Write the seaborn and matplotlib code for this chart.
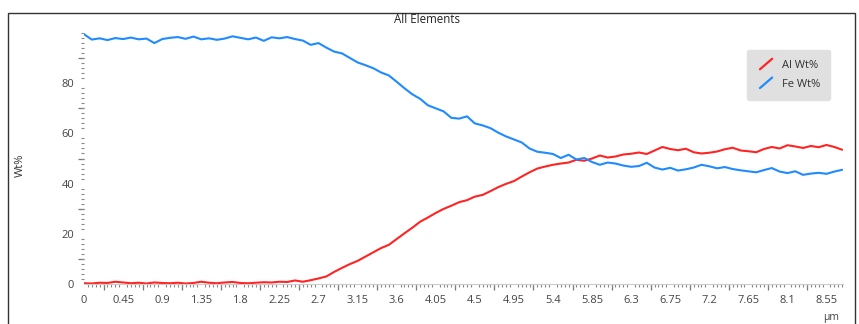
"""
Line scan of Al / Fe weight percent across an interface.
"""

import matplotlib.pyplot as plt
import pandas as pd
import seaborn as sns
from matplotlib.legend_handler import HandlerBase
from matplotlib.lines import Line2D
from matplotlib.patches import Rectangle
from matplotlib.ticker import FixedLocator, MultipleLocator

# distance along the scan (um), one sample every 0.09 um
step = 0.09
n_points = 98

fe_wt = [
    99.5, 97.4, 97.9, 97.2, 98.0, 97.6, 98.2, 97.5, 97.8, 96.0,
    97.6, 98.1, 98.4, 97.7, 98.6, 97.5, 97.9, 97.3, 97.8, 98.7,
    98.1, 97.5, 98.2, 96.9, 98.3, 97.9, 98.4, 97.6, 97.0, 95.3,
    96.0, 94.2, 92.6, 91.9, 90.1, 88.3, 87.2, 86.0, 84.3, 83.1,
    80.6, 78.0, 75.6, 73.8, 71.2, 70.0, 68.8, 66.2, 65.9, 66.8,
    64.0, 63.2, 62.1, 60.3, 58.8, 57.6, 56.4, 54.0, 52.7, 52.3,
    51.8, 50.2, 51.5, 49.6, 50.2, 48.6, 47.5, 48.4, 48.0, 47.2,
    46.7, 47.0, 48.3, 46.4, 45.6, 46.3, 45.2, 45.7, 46.4, 47.5,
    46.9, 46.1, 46.6, 45.8, 45.3, 44.9, 44.5, 45.4, 46.2, 44.8,
    44.2, 44.9, 43.5, 44.0, 44.3, 43.9, 44.8, 45.5,
]

al_wt = [
    0.3, 0.2, 0.5, 0.4, 0.9, 0.6, 0.3, 0.5, 0.2, 0.6,
    0.4, 0.3, 0.5, 0.2, 0.4, 0.9, 0.5, 0.3, 0.6, 0.8,
    0.4, 0.3, 0.5, 0.7, 0.6, 0.9, 0.8, 1.4, 0.9, 1.5,
    2.2, 3.0, 4.8, 6.4, 7.9, 9.2, 10.9, 12.6, 14.3, 15.6,
    17.9, 20.2, 22.4, 24.8, 26.5, 28.3, 29.9, 31.2, 32.6, 33.4,
    34.8, 35.5, 37.0, 38.6, 39.9, 41.0, 42.8, 44.5, 46.0, 46.8,
    47.5, 48.0, 48.4, 49.5, 49.1, 50.0, 51.2, 50.4, 50.8, 51.6,
    51.9, 52.4, 51.8, 53.2, 54.6, 53.8, 53.3, 53.9, 52.5, 52.0,
    52.3, 52.8, 53.7, 54.3, 53.2, 52.9, 52.5, 53.8, 54.6, 54.0,
    55.3, 54.8, 54.2, 55.0, 54.5, 55.4, 54.6, 53.5,
]

x_ticks = [0, 0.45, 0.9, 1.35, 1.8, 2.25, 2.7, 3.15, 3.6, 4.05,
           4.5, 4.95, 5.4, 5.85, 6.3, 6.75, 7.2, 7.65, 8.1, 8.55]
x_tick_labels = ["0", "0.45", "0.9", "1.35", "1.8", "2.25", "2.7", "3.15",
                 "3.6", "4.05", "4.5", "4.95", "5.4", "5.85", "6.3", "6.75",
                 "7.2", "7.65", "8.1", "8.55"]
y_ticks = [0, 20, 40, 60, 80]

colors = {"Al Wt%": "#ff2424", "Fe Wt%": "#1f8bff"}


class SlantHandler(HandlerBase):
    """Legend key drawn as a short rising line."""

    def create_artists(self, legend, orig, xdescent, ydescent, width,
                       height, fontsize, trans):
        line = Line2D([xdescent + 2, width - 2], [-1, height + 1],
                      color=orig.get_color(), lw=1.6, transform=trans)
        return [line]


def main():
    distance = [round(i * step, 2) for i in range(n_points)]
    df = pd.DataFrame({
        "um": distance * 2,
        "wt": al_wt + fe_wt,
        "element": ["Al Wt%"] * n_points + ["Fe Wt%"] * n_points,
    })

    sns.set_theme(style="white")
    plt.rcParams["font.family"] = ["Open Sans", "DejaVu Sans"]

    fig = plt.figure(figsize=(8.59, 3.24), dpi=100)
    ax = fig.add_axes([0.0978, 0.1235, 0.8836, 0.7745])

    sns.lineplot(data=df, x="um", y="wt", hue="element", palette=colors,
                 lw=1.5, ax=ax, legend=False)

    ax.set_xlim(0, 8.74)
    ax.set_ylim(0, 100)
    ax.set_xlabel("")
    ax.set_ylabel("")

    # x ticks: major labelled, medium at half steps, small dots
    ax.xaxis.set_major_locator(FixedLocator(x_ticks))
    ax.set_xticklabels(x_tick_labels)
    ax.xaxis.set_minor_locator(MultipleLocator(0.045))
    ax.tick_params(axis="x", which="major", length=6, width=1,
                   color="#777777", labelsize=8, labelcolor="#444444", pad=2)
    ax.tick_params(axis="x", which="minor", length=2.5, width=0.8,
                   color="#888888", bottom=True)

    ax.yaxis.set_major_locator(FixedLocator(y_ticks))
    ax.yaxis.set_minor_locator(MultipleLocator(2))
    ax.tick_params(axis="y", which="major", length=6, width=1,
                   color="#777777", labelsize=8, labelcolor="#444444", pad=1)
    ax.tick_params(axis="y", which="minor", length=2, width=0.8,
                   color="#888888", left=True)

    mid_x = ax.secondary_xaxis("bottom")
    mid_x.set_xticks([t + 0.225 for t in x_ticks])
    mid_x.tick_params(length=4, width=0.9, color="#777777", labelbottom=False)
    mid_x.spines["bottom"].set_visible(False)

    mid_y = ax.secondary_yaxis("left")
    mid_y.set_yticks([t + 10 for t in y_ticks])
    mid_y.tick_params(length=4, width=0.9, color="#777777", labelleft=False)
    mid_y.spines["left"].set_visible(False)

    for side in ["top", "right", "left"]:
        ax.spines[side].set_visible(False)
    ax.spines["bottom"].set_color("#cccccc")
    ax.spines["bottom"].set_linewidth(0.8)

    handles = [Line2D([], [], color=colors[k]) for k in colors]
    leg = ax.legend(handles, list(colors), loc="upper right",
                    bbox_to_anchor=(0.99, 0.955), fontsize=8,
                    handler_map={Line2D: SlantHandler()},
                    handlelength=1.6, handletextpad=0.6, labelspacing=0.7,
                    borderpad=0.9, frameon=True, fancybox=True,
                    facecolor="#e0e0e0", edgecolor="#e0e0e0", framealpha=1)
    for txt in leg.get_texts():
        txt.set_color("#333333")

    fig.text(0.497, 0.94, "All Elements", ha="center", va="center",
             fontsize=8.3, color="#222222")
    fig.text(0.024, 0.49, "Wt%", ha="center", va="center", rotation=90,
             fontsize=8, color="#333333")
    fig.text(0.968, 0.004, "μm", ha="center", va="bottom", fontsize=7.5,
             color="#444444")

    fig.add_artist(Rectangle((8 / 859, -0.1), 847 / 859, 1.06,
                             transform=fig.transFigure, fill=False,
                             edgecolor="#333333", lw=1.0))

    fig.savefig("out.png", dpi=100)


if __name__ == "__main__":
    main()
